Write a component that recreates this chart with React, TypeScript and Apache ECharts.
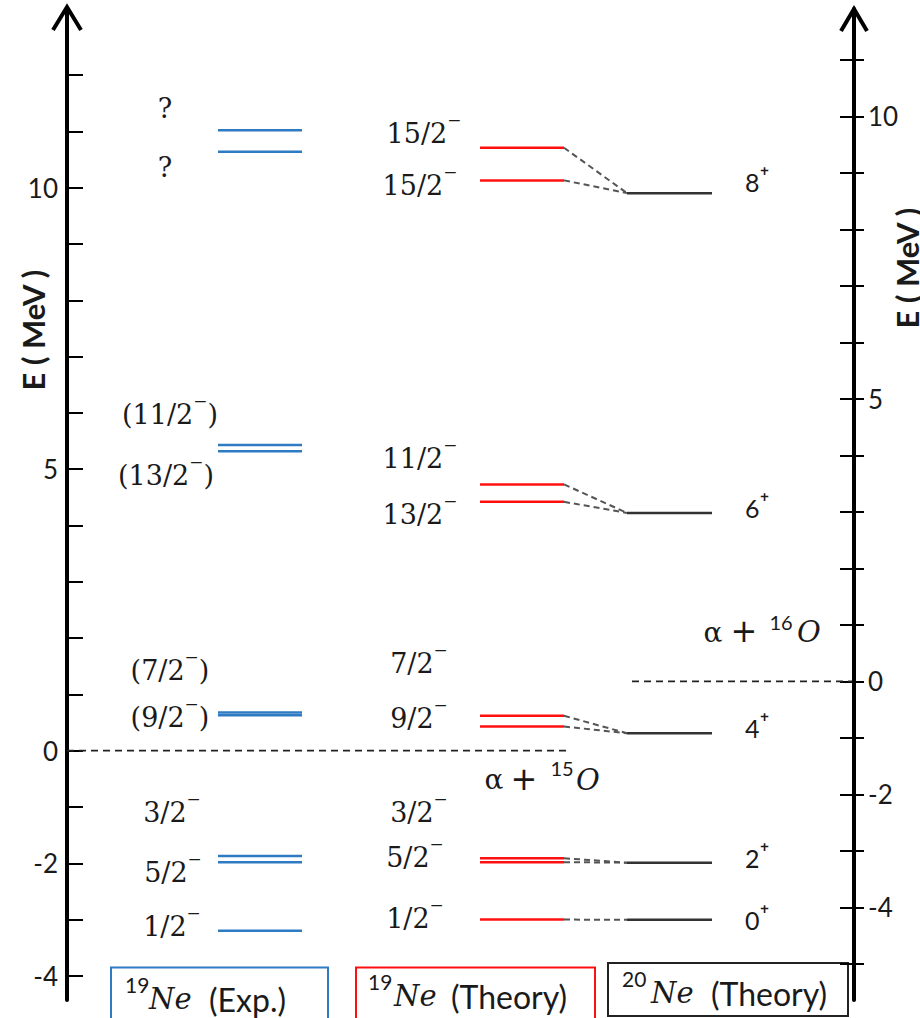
import React, { useEffect, useRef } from 'react';
import * as echarts from 'echarts';

// ---------- data ----------
const expEnergies = [11.02, 10.64, 5.43, 5.32, 0.68, 0.63, -1.87, -1.98, -3.2];
const expSpins = ['?', '?', '(11/2⁻)', '(13/2⁻)', '(7/2⁻)', '(9/2⁻)', '3/2⁻', '5/2⁻', '1/2⁻'];
const thEnergies = [10.71, 10.13, 4.73, 4.42, 0.62, 0.43, -1.91, -1.98, -3.0];
const thSpins = ['15/2⁻', '15/2⁻', '11/2⁻', '13/2⁻', '7/2⁻', '9/2⁻', '3/2⁻', '5/2⁻', '1/2⁻'];
const ne20Energies = [8.64, 2.98, -0.92, -3.21, -4.22];
const ne20Spins = ['8⁺', '6⁺', '4⁺', '2⁺', '0⁺'];
const thToNe20 = [0, 0, 1, 1, 2, 2, 3, 3, 4];
const thresholdNe19 = 0;
const thresholdNe20 = 0;
const leftTicks = [-4, -3, -2, -1, 0, 1, 2, 3, 4, 5, 6, 7, 8, 9, 10, 11, 12];
const leftTickLabels = [10, 5, 0, -2, -4];
const rightTicks = [-5, -4, -3, -2, -1, 0, 1, 2, 3, 4, 5, 6, 7, 8, 9, 10, 11];
const rightTickLabels = [10, 5, 0, -2, -4];

// ---------- layout ----------
const L_MIN = -4.428, L_MAX = 13.174;
const R_MIN = -5.641, R_MAX = 11.899;
const X_MIN = 67, X_MAX = 854;
const COL_EXP = [218, 302];
const COL_TH = [480, 564];
const COL_20 = [627, 712];
const expLabelX = [165, 165, 170, 166, 170, 170, 172, 173, 172];
const expLabelDy = [-22, 16, -30, 24, -42, 2, -43, 10, -4];
const thLabelX = [424, 420, 420, 420, 419, 419, 419, 415, 415];
const thLabelDy = [-14, 5, -26, 13, -52, -8, -46, -5, -1];
const ne20LabelX = 745;
const ne20LabelDy = [-11, -5, -5, -5, 0];

const TEXT = '#1a1a1a';
const SERIF = "'DejaVu Serif', serif";
const SANS = "Lato, 'DejaVu Sans', sans-serif";
const BLUE = '#2e7bc4';
const RED = '#ff1010';

const rightToLeft = (v: number) => L_MIN + ((v - R_MIN) / (R_MAX - R_MIN)) * (L_MAX - L_MIN);

// split a spin label into body + trailing parity sign so the sign can be raised
function spinRich(s: string) {
  const m = s.match(/^(.*?)([⁻⁺])(\)?)$/);
  if (!m) return `{b|${s}}`;
  return `{b|${m[1]}}{s|${m[2]}}` + (m[3] ? `{b|${m[3]}}` : '');
}

function levelSeries(
  energies: number[], spins: string[], col: number[], color: string, yAxisIndex: number,
  labelX: (i: number) => number, labelDy: number[], family: string, size: number, align: string,
  lift: number, signSize: number
) {
  return {
    type: 'custom',
    xAxisIndex: 0,
    yAxisIndex,
    clip: false,
    data: energies.map((e, i) => [col[0], col[1], e, i]),
    encode: { x: [0, 1], y: 2 },
    renderItem: (params: any, api: any) => {
      const i = api.value(3);
      const p0 = api.coord([api.value(0), api.value(2)]);
      const p1 = api.coord([api.value(1), api.value(2)]);
      return {
        type: 'group',
        children: [
          { type: 'line', shape: { x1: p0[0], y1: p0[1], x2: p1[0], y2: p1[1] }, style: { stroke: color, lineWidth: 2.5 } },
          {
            type: 'text', x: labelX(i), y: p0[1] + labelDy[i],
            style: {
              text: spinRich(spins[i]), fill: TEXT, fontSize: size, fontFamily: family, align, verticalAlign: 'middle',
              rich: {
                b: { fontSize: size, fontFamily: family, fill: TEXT },
                s: { fontSize: signSize, fontFamily: family, fill: TEXT, padding: [0, 0, lift, 0] },
              },
            },
          },
        ],
      };
    },
  };
}

function thresholdSeries(value: number, span: number[], yAxisIndex: number, sup: string, lx: number[], dy: number, supDy: number) {
  return {
    type: 'custom',
    xAxisIndex: 0,
    yAxisIndex,
    clip: false,
    data: [[span[0], span[1], value]],
    encode: { x: [0, 1], y: 2 },
    renderItem: (params: any, api: any) => {
      const p0 = api.coord([api.value(0), api.value(2)]);
      const p1 = api.coord([api.value(1), api.value(2)]);
      const y = p0[1];
      return {
        type: 'group',
        children: [
          { type: 'line', shape: { x1: p0[0], y1: y, x2: p1[0], y2: y }, style: { stroke: '#222', lineWidth: 1.8, lineDash: [7, 5] } },
          { type: 'text', x: lx[0], y: y + dy, style: { text: 'α', fill: TEXT, fontSize: 28, fontFamily: SERIF, align: 'center', verticalAlign: 'middle' } },
          { type: 'text', x: lx[1], y: y + dy - 1, style: { text: '+', fill: TEXT, fontSize: 32, fontFamily: "'DejaVu Sans', sans-serif", align: 'center', verticalAlign: 'middle' } },
          { type: 'text', x: lx[2], y: y + supDy, style: { text: sup, fill: TEXT, fontSize: 20, fontFamily: SANS, align: 'center', verticalAlign: 'middle' } },
          { type: 'text', x: lx[3], y: y + dy, style: { text: 'O', fill: TEXT, fontSize: 29, fontStyle: 'italic', fontFamily: SERIF, align: 'center', verticalAlign: 'middle' } },
        ],
      };
    },
  };
}

const connectorSeries = {
  type: 'custom',
  xAxisIndex: 0,
  yAxisIndex: 0,
  clip: false,
  data: thEnergies.map((e, i) => [COL_TH[1], COL_20[0], e, rightToLeft(ne20Energies[thToNe20[i]])]),
  renderItem: (params: any, api: any) => {
    const p0 = api.coord([api.value(0), api.value(2)]);
    const p1 = api.coord([api.value(1), api.value(3)]);
    return {
      type: 'line',
      shape: { x1: p0[0], y1: p0[1], x2: p1[0], y2: p1[1] },
      style: { stroke: '#555', lineWidth: 2, lineDash: [6, 4] },
    };
  },
};

function legendBox(x: number, y: number, w: number, h: number, color: string, sup: string, supX: number, supY: number, neX: number, neY: number, label: string, lX: number, lY: number) {
  return [
    { type: 'rect', shape: { x, y, width: w, height: h }, style: { fill: 'none', stroke: color, lineWidth: 2 } },
    { type: 'text', x: supX, y: supY, style: { text: sup, fill: TEXT, fontSize: 21, fontFamily: SANS, align: 'left', verticalAlign: 'middle' } },
    { type: 'text', x: neX, y: neY, style: { text: 'Ne', fill: TEXT, fontSize: 29, fontStyle: 'italic', fontFamily: SERIF, align: 'left', verticalAlign: 'middle' } },
    { type: 'text', x: lX, y: lY, style: { text: label, fill: TEXT, fontSize: 32, fontFamily: SANS, align: 'left', verticalAlign: 'middle' } },
  ];
}

const axisLabelStyle = { fontSize: 26, fontFamily: SANS, color: TEXT };

const option: any = {
  animation: false,
  backgroundColor: '#ffffff',
  grid: { left: X_MIN, right: 920 - X_MAX, top: 9, bottom: 18, containLabel: false },
  xAxis: [{ type: 'value', min: X_MIN, max: X_MAX, show: false }],
  yAxis: [
    {
      type: 'value', position: 'left', min: L_MIN, max: L_MAX,
      axisLine: { show: true, onZero: false, lineStyle: { color: '#000', width: 4 } },
      axisTick: { show: true, inside: true, length: 16, customValues: leftTicks, lineStyle: { color: '#000', width: 2 } },
      axisLabel: { show: true, customValues: leftTickLabels, margin: 9, ...axisLabelStyle },
      splitLine: { show: false },
    },
    {
      type: 'value', position: 'right', min: R_MIN, max: R_MAX,
      axisLine: { show: true, onZero: false, lineStyle: { color: '#000', width: 4 } },
      axisTick: { show: true, inside: false, length: 10, customValues: rightTicks, lineStyle: { color: '#000', width: 2 } },
      axisLabel: { show: true, customValues: rightTickLabels, margin: 14, ...axisLabelStyle },
      splitLine: { show: false },
    },
    {
      type: 'value', position: 'right', min: R_MIN, max: R_MAX,
      axisLine: { show: false, onZero: false },
      axisTick: { show: true, inside: true, length: 14, customValues: rightTicks, lineStyle: { color: '#000', width: 2 } },
      axisLabel: { show: false },
      splitLine: { show: false },
    },
  ],
  series: [
    connectorSeries,
    thresholdSeries(thresholdNe19, [67, 567], 0, '15', [494, 524, 562, 588], 29, 17),
    thresholdSeries(thresholdNe20, [632, 852], 1, '16', [713, 744, 781, 809], -49, -59),
    levelSeries(expEnergies, expSpins, COL_EXP, BLUE, 0, (i) => expLabelX[i], expLabelDy, SERIF, 27, 'center', 18, 27),
    levelSeries(thEnergies, thSpins, COL_TH, RED, 0, (i) => thLabelX[i], thLabelDy, SERIF, 27, 'center', 18, 27),
    levelSeries(ne20Energies, ne20Spins, COL_20, '#333', 1, () => ne20LabelX, ne20LabelDy, SANS, 25, 'left', 8, 30),
  ],
  graphic: [
    { type: 'polyline', shape: { points: [[53, 30], [67, 7], [81, 30]] }, style: { fill: 'none', stroke: '#000', lineWidth: 4 } },
    { type: 'polyline', shape: { points: [[841, 31], [854, 9], [867, 31]] }, style: { fill: 'none', stroke: '#000', lineWidth: 4 } },
    { type: 'text', x: 33, y: 330, rotation: Math.PI / 2, style: { text: 'E ( MeV )', fill: TEXT, fontSize: 31, fontWeight: 'bold', fontFamily: SANS, align: 'center', verticalAlign: 'middle' } },
    { type: 'text', x: 907, y: 268, rotation: Math.PI / 2, style: { text: 'E ( MeV )', fill: TEXT, fontSize: 31, fontWeight: 'bold', fontFamily: SANS, align: 'center', verticalAlign: 'middle' } },
    ...legendBox(111, 967.5, 217, 60, BLUE, '19', 125, 984, 149, 999, '(Exp.)', 209, 999),
    ...legendBox(356, 967.5, 239, 60, RED, '19', 368, 981, 394, 996, '(Theory)', 451, 996),
    ...legendBox(608, 963, 240, 53, '#222', '20', 622, 978, 651, 993, '(Theory)', 711, 993),
  ],
};

export default function App() {
  const ref = useRef<HTMLDivElement>(null);
  useEffect(() => {
    document.body.style.margin = '0';
    const chart = echarts.init(ref.current!, null, { renderer: 'svg' });
    chart.setOption(option);
    return () => chart.dispose();
  }, []);
  return <div ref={ref} style={{ width: 920, height: 1018 }} />;
}
